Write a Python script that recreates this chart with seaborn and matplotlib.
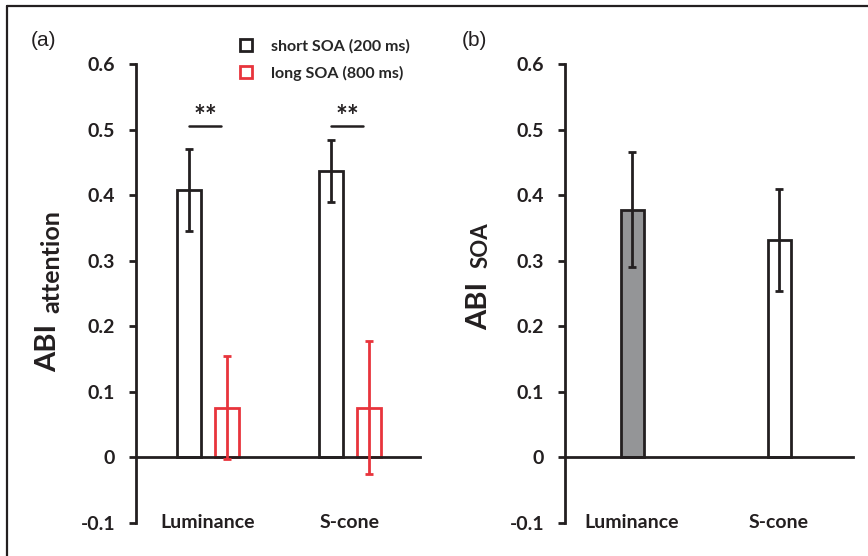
import numpy as np
import pandas as pd
import matplotlib
matplotlib.use("Agg")
import matplotlib.pyplot as plt
import seaborn as sns
from matplotlib.lines import Line2D

# ---- data ----
stimuli = ["Luminance", "S-cone"]
soa_levels = ["short SOA (200 ms)", "long SOA (800 ms)"]
abi_attention_short = [0.408, 0.437]
abi_attention_long = [0.076, 0.076]
err_attention_short = [0.062, 0.047]
err_attention_long = [0.079, 0.102]
abi_soa = [0.378, 0.332]
err_soa = [0.088, 0.078]
yticks = [-0.1, 0, 0.1, 0.2, 0.3, 0.4, 0.5, 0.6]
ytick_labels = ["-0.1", "0", "0.1", "0.2", "0.3", "0.4", "0.5", "0.6"]

BLACK = "#231f20"
RED = "#e8343c"
GRAY = "#939598"

sns.set_theme(style="white")
plt.rcParams["font.family"] = ["Lato", "DejaVu Sans"]
plt.rcParams["font.weight"] = "bold"


def style_axes(ax):
    ax.set_ylim(-0.1, 0.6)
    ax.set_yticks(yticks)
    ax.set_yticklabels(ytick_labels, fontsize=14, fontweight="bold", color=BLACK)
    for s in ["top", "right"]:
        ax.spines[s].set_visible(False)
    ax.spines["left"].set_color(BLACK)
    ax.spines["left"].set_linewidth(2)
    ax.spines["bottom"].set_color(BLACK)
    ax.spines["bottom"].set_linewidth(2)
    ax.spines["bottom"].set_position(("data", 0))
    ax.tick_params(axis="y", direction="out", length=5, width=2, color=BLACK, left=True, pad=10)
    ax.tick_params(axis="x", length=0, labelbottom=False)
    ax.set_xlabel("")
    ax.set_ylabel("")
    for i, name in enumerate(stimuli):
        ax.text(i, 0.0, name, transform=ax.get_xaxis_transform(), ha="center", va="center",
                fontsize=14, fontweight="bold", color=BLACK)


fig = plt.figure(figsize=(8.68, 5.56), dpi=100)
ax_a = fig.add_axes([136 / 868, 1 - 523 / 556, (420 - 136) / 868, (523 - 64) / 556])
ax_b = fig.add_axes([565 / 868, 1 - 523 / 556, (853 - 565) / 868, (523 - 64) / 556])

# ---- panel (a) ----
df_a = pd.DataFrame({
    "stimulus": stimuli * 2,
    "soa": [soa_levels[0]] * 2 + [soa_levels[1]] * 2,
    "abi": abi_attention_short + abi_attention_long,
})
sns.barplot(data=df_a, x="stimulus", y="abi", hue="soa", hue_order=soa_levels,
            palette={soa_levels[0]: BLACK, soa_levels[1]: RED}, fill=False,
            width=0.536, gap=0.37, linewidth=2, errorbar=None, legend=False, ax=ax_a)

errs_a = [err_attention_short, err_attention_long]
cols_a = [BLACK, RED]
centers = []
for cont, errs, col in zip(ax_a.containers, errs_a, cols_a):
    xs = [p.get_x() + p.get_width() / 2 for p in cont.patches]
    ys = [p.get_height() for p in cont.patches]
    centers.append(xs)
    ax_a.errorbar(xs, ys, yerr=errs, fmt="none", ecolor=col, elinewidth=2,
                  capsize=3, capthick=2, zorder=5)

# significance markers
for i in range(len(stimuli)):
    x0 = centers[0][i]
    x1 = centers[1][i] - 0.04
    ax_a.plot([x0, x1], [0.506, 0.506], color=BLACK, lw=1.8)
    ax_a.text((x0 + x1) / 2, 0.500, "**", ha="center", va="bottom",
              fontsize=20, fontweight="bold", color=BLACK)

ax_a.set_xlim(-0.507, 1.493)
style_axes(ax_a)

handles = [Line2D([], [], marker="s", ls="none", markersize=8.5, markerfacecolor="white",
                  markeredgecolor=c, markeredgewidth=2) for c in cols_a]
ax_a.legend(handles, soa_levels, loc="upper left", bbox_to_anchor=(0.28, 1.085),
            frameon=False, handletextpad=0.55, labelspacing=0.75,
            prop={"weight": "bold", "size": 11.5})

# ---- panel (b) ----
df_b = pd.DataFrame({"stimulus": stimuli, "abi": abi_soa})
sns.barplot(data=df_b, x="stimulus", y="abi", hue="stimulus",
            palette=[GRAY, "white"], edgecolor=BLACK, linewidth=2,
            width=0.156, errorbar=None, legend=False, ax=ax_b)
for cont, err in zip(ax_b.containers, err_soa):
    p = cont.patches[0]
    ax_b.errorbar([p.get_x() + p.get_width() / 2], [p.get_height()], yerr=[err],
                  fmt="none", ecolor=BLACK, elinewidth=2, capsize=3, capthick=2, zorder=5)
ax_b.set_xlim(-0.456, 1.503)
style_axes(ax_b)

# ---- y labels (mixed sizes) ----
fig.text(56 / 868, 1 - 372 / 556, "ABI", rotation=90, rotation_mode="anchor",
         ha="left", va="baseline", fontsize=21, fontweight="bold", color=BLACK)
fig.text(59 / 868, 1 - 313 / 556, "attention", rotation=90, rotation_mode="anchor",
         ha="left", va="baseline", fontsize=18, fontweight="bold", color=BLACK)
fig.text(487 / 868, 1 - 330 / 556, "ABI", rotation=90, rotation_mode="anchor",
         ha="left", va="baseline", fontsize=21, fontweight="bold", color=BLACK)
fig.text(488 / 868, 1 - 268 / 556, "SOA", rotation=90, rotation_mode="anchor",
         ha="left", va="baseline", fontsize=16, fontweight="bold", color=BLACK)

# panel letters
fig.text(31 / 868, 1 - 41 / 556, "(a)", ha="left", va="center", fontsize=15,
         fontweight="normal", family=["Liberation Sans", "DejaVu Sans"], color=BLACK)
fig.text(462 / 868, 1 - 41 / 556, "(b)", ha="left", va="center", fontsize=15,
         fontweight="normal", family=["Liberation Sans", "DejaVu Sans"], color=BLACK)

# partial frame (top and left)
fig.add_artist(Line2D([7 / 868, 1], [1 - 6 / 556, 1 - 6 / 556], color=BLACK, lw=1.6))
fig.add_artist(Line2D([7 / 868, 7 / 868], [1 - 6 / 556, 0], color=BLACK, lw=1.6))

fig.savefig("out.png", dpi=100)
